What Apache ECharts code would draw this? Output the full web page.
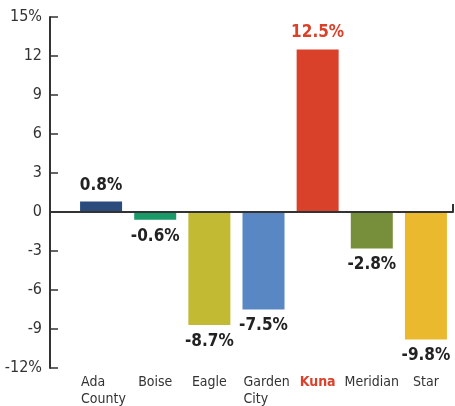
<!DOCTYPE html>
<html>
<head>
<meta charset="utf-8">
<script src="https://cdn.jsdelivr.net/npm/echarts@6/dist/echarts.min.js"></script>
<style>html,body{margin:0;padding:0;background:#fff}#c{width:455px;height:406px}</style>
</head>
<body>
<div id="c"></div>
<script>
var categories = ['Ada\nCounty', 'Boise', 'Eagle', 'Garden\nCity', 'Kuna', 'Meridian', 'Star'];
var values = [0.8, -0.6, -8.7, -7.5, 12.5, -2.8, -9.8];
var colors = ['#2b4b7d', '#1b9a69', '#c2ba32', '#5887c4', '#d9412b', '#778f3a', '#ebb92e'];
var highlight = 'Kuna';
var yMin = -12, yMax = 15, yStep = 3;

var FONT = "'Liberation Sans Narrow', 'DejaVu Sans Condensed', 'Liberation Sans', sans-serif";
var RED = '#d9412b';

var chart = echarts.init(document.getElementById('c'));
var data = values.map(function (v, i) {
  var isHi = categories[i] === highlight;
  return {
    value: v,
    itemStyle: { color: colors[i] },
    label: { position: v >= 0 ? 'top' : 'bottom', color: isHi ? RED : '#222' }
  };
});

chart.setOption({
  animation: false,
  textStyle: { fontFamily: FONT },
  grid: [
    { left: 74, right: 2, top: 17, bottom: 38, containLabel: false, outerBoundsMode: 'none' },
    { left: 50, right: 2, top: 17, bottom: 38, containLabel: false, outerBoundsMode: 'none' }
  ],
  xAxis: [
    {
      type: 'category', gridIndex: 0, data: categories,
      axisLine: { show: false }, axisTick: { show: false },
      axisLabel: {
        interval: 0, margin: 6, fontFamily: FONT, fontSize: 14, color: '#333', lineHeight: 17,
        formatter: function (v) {
          if (v === highlight) return '{hi|' + v + '}';
          if (v.indexOf('\n') >= 0) return v.split('\n').map(function (s) { return '{ml|' + s + '}'; }).join('\n');
          return v;
        },
        rich: {
          hi: { color: RED, fontWeight: 'bold', fontFamily: FONT, fontSize: 14, lineHeight: 17 },
          ml: { width: 40, align: 'left', fontFamily: FONT, fontSize: 14, color: '#333', lineHeight: 17 }
        }
      }
    },
    {
      type: 'value', gridIndex: 1, min: 0, max: 1, interval: 1, z: 5,
      axisLine: { show: true, onZero: true, lineStyle: { color: '#333', width: 2 } },
      axisTick: { show: true, inside: true, length: 8, lineStyle: { color: '#333', width: 2 } },
      axisLabel: { show: false }, splitLine: { show: false }
    }
  ],
  yAxis: [
    {
      type: 'value', gridIndex: 0, min: yMin, max: yMax, interval: yStep, show: false
    },
    {
      type: 'value', gridIndex: 1, min: yMin, max: yMax, interval: yStep,
      axisLine: { show: true, lineStyle: { color: '#333', width: 2 } },
      axisTick: { show: true, inside: true, length: 8, lineStyle: { color: '#333', width: 1.5 } },
      splitLine: { show: false },
      axisLabel: {
        margin: 8, fontFamily: FONT, fontSize: 16, color: '#333',
        formatter: function (v) { return (v === yMax || v === yMin) ? v + '%' : String(v); }
      }
    }
  ],
  series: [{
    type: 'bar', xAxisIndex: 0, yAxisIndex: 0, data: data, barWidth: 42,
    label: {
      show: true, distance: 8, fontFamily: FONT, fontSize: 17, fontWeight: 'bold',
      formatter: function (p) { return p.value.toFixed(1) + '%'; }
    }
  }]
});
</script>
</body>
</html>
